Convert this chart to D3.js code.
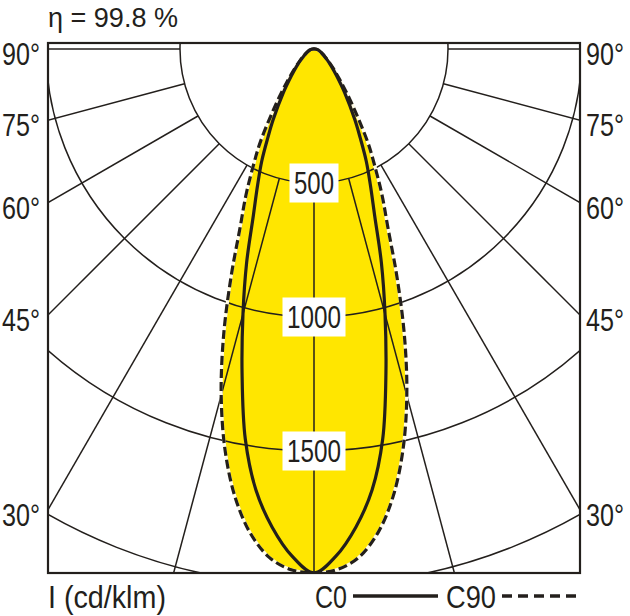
<!DOCTYPE html>
<html><head><meta charset="utf-8">
<script src="https://cdn.jsdelivr.net/npm/d3@7/dist/d3.min.js"></script>
<style>html,body{margin:0;padding:0;background:#fff;}svg{display:block;}</style>
</head><body><svg id="chart" width="630" height="616"></svg>
<script>
// ---- data ----
const gammaAngles = [0, 2.5, 5, 7.5, 10, 12.5, 15, 17.5, 20, 22.5, 25, 27.5, 30, 35, 40, 45, 50, 55, 60, 65, 70, 75, 80, 85, 90];
const c0Values  = [1955, 1893, 1791, 1660, 1477, 1240, 1024, 836, 662, 550, 461, 373, 305, 200, 132, 92, 66, 48, 36, 28, 22, 17, 13, 9, 5];
const c90Values = [1955, 1945, 1905, 1822, 1697, 1533, 1338, 1122, 905, 720, 600, 490, 400, 240, 150, 100, 70, 50, 37, 28, 22, 17, 13, 9, 5];
const ringValues = [500, 1000, 1500, 2000];
const ringLabelValues = [500, 1000, 1500];
const spokeAngles = [0, 15, 30, 45, 60, 75, 90];
const sideTickAngles = [90, 75, 60, 45, 30];
const sideTickLabels = ["90°", "75°", "60°", "45°", "30°"];
const titleText = "η = 99.8 %";
const unitText = "I (cd/klm)";
const legendNames = ["C0", "C90"];

// ---- layout ----
const svg = d3.select("#chart");
const frame = {x0: 48, y0: 43, x1: 580, y1: 573};
const cx = 314, cy = 49;
const r = d3.scaleLinear().domain([0, 500]).range([0, 134]);
const ink = "#231f1c";
const yellow = "#ffe600";
const font = "'Liberation Sans',Arimo,Arial,sans-serif";
const rad = d => d * Math.PI / 180;

// condensed text: measure natural width, then squeeze horizontally to the target width
function label(parent, str, x, y, width, size, anchor) {
  const g = parent.append("g");
  const t = g.append("text").attr("font-family", font).attr("font-size", size)
    .attr("fill", ink).attr("text-anchor", "start").text(str);
  const nat = t.node().getComputedTextLength();
  const k = width / nat;
  const left = anchor === "middle" ? x - width / 2 : anchor === "end" ? x - width : x;
  g.attr("transform", `translate(${left},${y}) scale(${k},1)`);
  return g;
}

svg.append("defs").append("clipPath").attr("id", "fclip")
  .append("rect").attr("x", frame.x0).attr("y", frame.y0)
  .attr("width", frame.x1 - frame.x0).attr("height", frame.y1 - frame.y0);

const plot = svg.append("g").attr("clip-path", "url(#fclip)");
const polar = plot.append("g").attr("transform", `translate(${cx},${cy})`);

function curvePoints(values) {
  const pts = [];
  for (let i = gammaAngles.length - 1; i >= 1; i--) pts.push({a: -gammaAngles[i], v: values[i]});
  for (let i = 0; i < gammaAngles.length; i++) pts.push({a: gammaAngles[i], v: values[i]});
  return pts;
}
const radial = d3.lineRadial()
  .angle(d => Math.PI - rad(d.a))
  .radius(d => r(d.v))
  .curve(d3.curveCatmullRomClosed.alpha(0.5));

// yellow fill
polar.append("path").attr("d", radial(curvePoints(c90Values))).attr("fill", yellow);
polar.append("path").attr("d", radial(curvePoints(c0Values))).attr("fill", yellow);

// rings
polar.selectAll("circle.ring").data(ringValues).join("circle")
  .attr("class", "ring").attr("r", d => r(d))
  .attr("fill", "none").attr("stroke", ink).attr("stroke-width", 1.5);

// spokes
const spokes = [];
spokeAngles.forEach(a => { spokes.push(a); if (a !== 0) spokes.push(-a); });
polar.selectAll("line.spoke").data(spokes).join("line")
  .attr("class", "spoke")
  .attr("x1", d => r(500) * Math.sin(rad(d)))
  .attr("y1", d => r(500) * Math.cos(rad(d)))
  .attr("x2", d => r(3000) * Math.sin(rad(d)))
  .attr("y2", d => r(3000) * Math.cos(rad(d)))
  .attr("stroke", ink).attr("stroke-width", 1.5);

// curves
polar.append("path").attr("d", radial(curvePoints(c90Values)))
  .attr("fill", "none").attr("stroke", "#fffbe6").attr("stroke-width", 3.2);
polar.append("path").attr("d", radial(curvePoints(c90Values)))
  .attr("fill", "none").attr("stroke", ink).attr("stroke-width", 3.2)
  .attr("stroke-dasharray", "9,4");
polar.append("path").attr("d", radial(curvePoints(c0Values)))
  .attr("fill", "none").attr("stroke", ink).attr("stroke-width", 3.2);

// ring labels
const lblW = {500: 40, 1000: 54, 1500: 54};
ringLabelValues.forEach(v => {
  const w = lblW[v];
  polar.append("rect").attr("x", -w / 2 - 4.5).attr("y", r(v) - 19.5)
    .attr("width", w + 9).attr("height", 39).attr("fill", "#fff");
  label(polar, String(v), 0, r(v) + 11, w, 31, "middle");
});

// frame
svg.append("rect").attr("x", frame.x0).attr("y", frame.y0)
  .attr("width", frame.x1 - frame.x0).attr("height", frame.y1 - frame.y0)
  .attr("fill", "none").attr("stroke", ink).attr("stroke-width", 2.2);

// side tick labels
const halfW = cx - frame.x0;
sideTickAngles.forEach((a, i) => {
  const hitY = cy + (a === 90 ? 0 : halfW / Math.tan(rad(a)));
  label(svg, sideTickLabels[i], 40, hitY + 16, 38, 31, "end");
  label(svg, sideTickLabels[i], 586, hitY + 16, 38, 31, "start");
});

// title
label(svg, titleText, 48, 27, 130, 28, "start");

// bottom labels
label(svg, unitText, 48, 608, 118, 31, "start");
label(svg, legendNames[0], 315, 608, 32, 31, "start");
svg.append("line").attr("x1", 353).attr("x2", 438).attr("y1", 596).attr("y2", 596)
  .attr("stroke", ink).attr("stroke-width", 3.5);
label(svg, legendNames[1], 446, 608, 50, 31, "start");
svg.append("line").attr("x1", 502).attr("x2", 577).attr("y1", 596).attr("y2", 596)
  .attr("stroke", ink).attr("stroke-width", 3.5).attr("stroke-dasharray", "10,6");
</script></body></html>
